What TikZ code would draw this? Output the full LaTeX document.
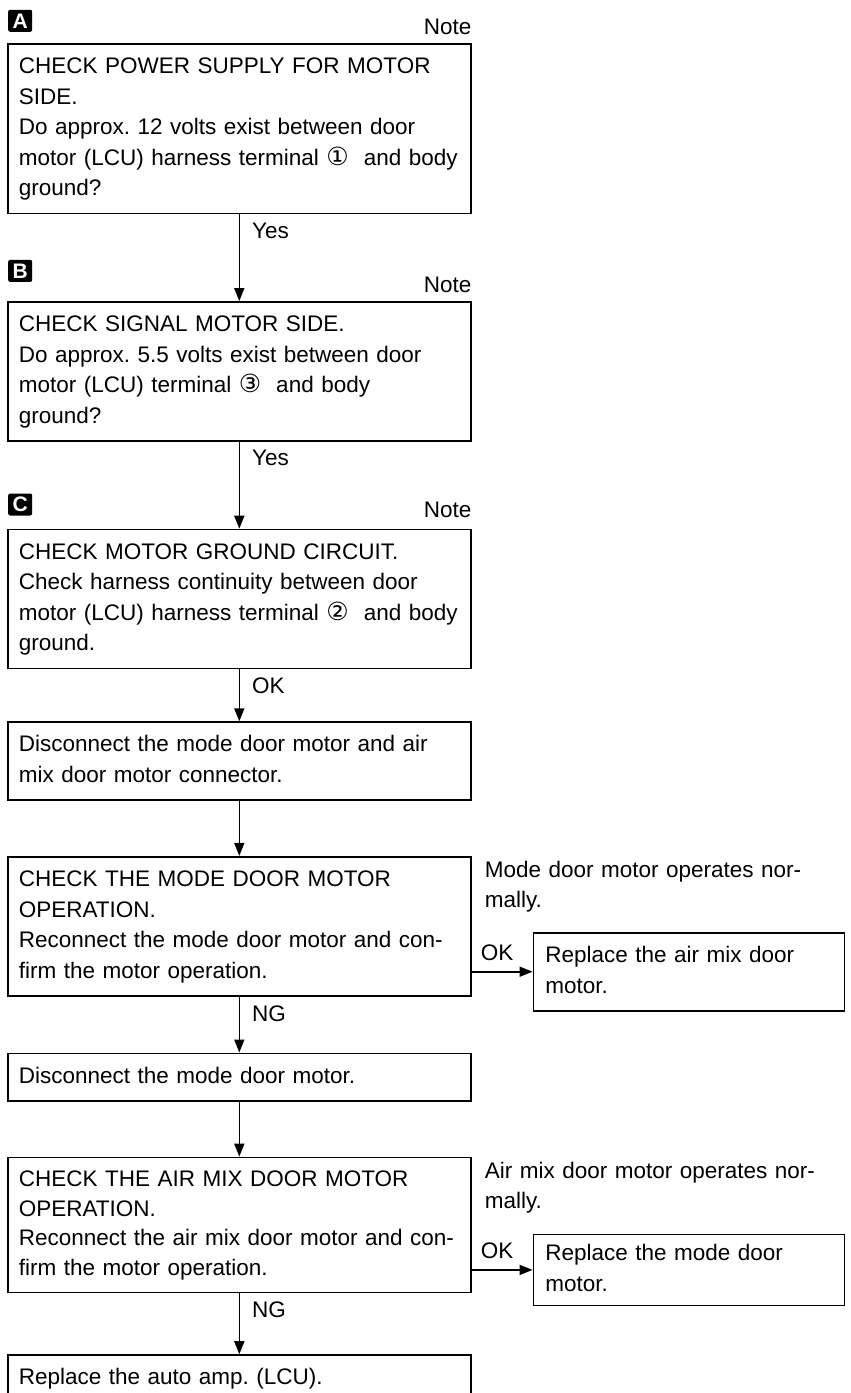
\documentclass[tikz,border=0pt]{standalone}
\usepackage{fontspec}
\setmainfont{Liberation Sans}
\newfontfamily\symfont{DejaVu Sans}
\usetikzlibrary{positioning, arrows.meta, calc}
\newcommand{\cnum}[1]{{\symfont\fontsize{25}{25}\selectfont #1}}
\frenchspacing

\begin{document}
\begin{tikzpicture}[x=1pt, y=-1pt,
    every node/.style={font=\fontsize{22.5}{30.5}\selectfont},
    stepbox/.style={rectangle, draw, line width=1.6pt, text width=441pt, inner xsep=11pt, inner ysep=8.5pt, align=left},
    sidebox/.style={rectangle, draw, line width=1.6pt, text width=287pt, inner xsep=12pt, inner ysep=8.5pt, align=left},
    badge/.style={fill=black, text=white, rounded corners=2pt, inner sep=0pt, minimum width=24pt, minimum height=22pt, font=\fontsize{21}{21}\selectfont\bfseries},
    flow/.style={-{Triangle[length=13pt, width=10pt]}, line width=1.6pt},
    tag/.style={inner sep=0pt, anchor=north west, pos=0, xshift=12pt, yshift=-8pt}]
    \useasboundingbox (0,0) rectangle (851,1393);

    \node[stepbox, anchor=north west] (chkpower) at (7,43) {\strut CHECK POWER SUPPLY FOR MOTOR\\ SIDE.\\ Do approx. 12 volts exist between door\\ motor (LCU) harness terminal \cnum{①}\ \ and body\\ ground?\strut};
    \node[stepbox, below=87pt of chkpower] (chksignal) {\strut CHECK SIGNAL MOTOR SIDE.\\ Do approx. 5.5 volts exist between door\\ motor (LCU) terminal \cnum{③}\ \ and body\\ ground?\strut};
    \node[stepbox, below=87pt of chksignal] (chkground) {\strut CHECK MOTOR GROUND CIRCUIT.\\ Check harness continuity between door\\ motor (LCU) harness terminal \cnum{②}\ \ and body\\ ground.\strut};
    \node[stepbox, below=52pt of chkground] (disconn) {\strut Disconnect the mode door motor and air\\ mix door motor connector.\strut};
    \node[stepbox, below=55pt of disconn] (chkmode) {\strut CHECK THE MODE DOOR MOTOR\\ OPERATION.\\ Reconnect the mode door motor and con-\\ firm the motor operation.\strut};
    \node[stepbox, below=56pt of chkmode] (discmode) {\strut Disconnect the mode door motor.\strut};
    \node[stepbox, below=55pt of discmode, font=\fontsize{22.5}{29.5}\selectfont] (chkmix) {\strut CHECK THE AIR MIX DOOR MOTOR\\ OPERATION.\\ Reconnect the air mix door motor and con-\\ firm the motor operation.\strut};
    \node[stepbox, below=61pt of chkmix] (replamp) {\strut Replace the auto amp. (LCU).\strut};

    \node[sidebox, anchor=north west] (replmix) at ($(chkmode.north east)+(61,76)$) {\strut Replace the air mix door\\ motor.\strut};
    \node[sidebox, anchor=north west, inner ysep=5pt] (replmode) at ($(chkmix.north east)+(61,77)$) {\strut Replace the mode door\\ motor.\strut};
    \node[inner sep=0pt, anchor=north west, text width=340pt, align=left] (modeok) at ($(chkmode.north east)+(13,0)$) {\strut Mode door motor operates nor-\\ mally.\strut};
    \node[inner sep=0pt, anchor=north west, text width=340pt, align=left] (mixok) at ($(chkmix.north east)+(13,0)$) {\strut Air mix door motor operates nor-\\ mally.\strut};

    \node[badge, anchor=south west] (tagA) at ($(chkpower.north west)+(1,-11)$) {A};
    \node[badge, anchor=south west] (tagB) at ($(chksignal.north west)+(1,-19)$) {B};
    \node[badge, anchor=south west] (tagC) at ($(chkground.north west)+(1,-13)$) {C};
    \node[inner sep=0pt, anchor=base east] (noteA) at ($(chkpower.north east)+(0,-9)$) {Note};
    \node[inner sep=0pt, anchor=base east] (noteB) at ($(chksignal.north east)+(0,-9)$) {Note};
    \node[inner sep=0pt, anchor=base east] (noteC) at ($(chkground.north east)+(0,-11)$) {Note};

    \draw[flow] (chkpower) -- node[tag] {Yes} (chksignal);
    \draw[flow] (chksignal) -- node[tag] {Yes} (chkground);
    \draw[flow] (chkground) -- node[tag] {OK} (disconn);
    \draw[flow] (disconn) -- (chkmode);
    \draw[flow] (chkmode) -- node[tag] {NG} (discmode);
    \draw[flow] (discmode) -- (chkmix);
    \draw[flow] (chkmix) -- node[tag] {NG} (replamp);
    \draw[flow] (chkmode.east |- replmix.west) -- node[inner sep=0pt, above=10pt, pos=0.42] {OK} (replmix.west);
    \draw[flow] (chkmix.east |- replmode.west) -- node[inner sep=0pt, above=10pt, pos=0.42] {OK} (replmode.west);
\end{tikzpicture}
\end{document}
